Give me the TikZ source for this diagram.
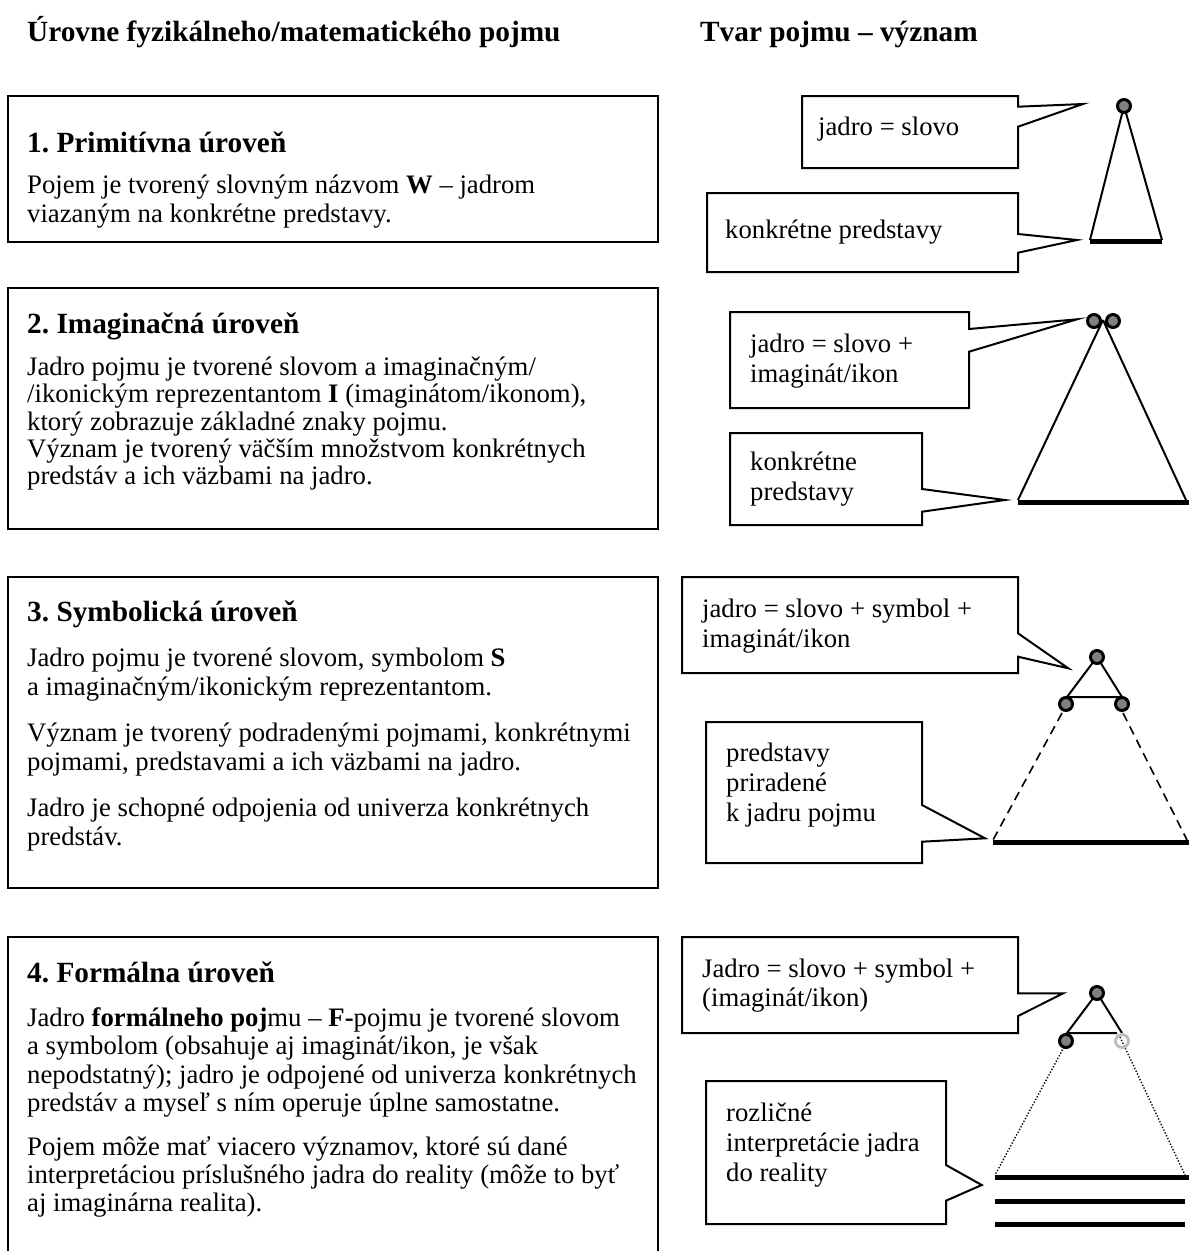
\documentclass[tikz,border=0pt]{standalone}
\usepackage{fontspec}
\setmainfont{Liberation Serif}
\definecolor{coregray}{RGB}{128,128,128}
\definecolor{ringgray}{RGB}{190,190,190}
\frenchspacing
\begin{document}
\begin{tikzpicture}[x=1pt,y=-1pt,
  body/.style={anchor=base west, inner sep=0pt, font=\fontsize{26.7}{29}\selectfont},
  head/.style={anchor=base west, inner sep=0pt, font=\fontsize{29.3}{31}\selectfont\bfseries},
  frame/.style={draw=black, line width=2pt},
  callout/.style={draw=black, line width=2pt, fill=white, line join=miter},
  side/.style={black, line width=2pt},
  baseline/.style={black, line width=5pt},
  dashside/.style={black, line width=1.6pt, dash pattern=on 9pt off 6pt},
  dotside/.style={black, line width=1.4pt, dash pattern=on 1.3pt off 1.8pt},
  core/.style={circle, draw=black, line width=3pt, fill=coregray, minimum size=13pt, inner sep=0pt},
  faint/.style={circle, draw=ringgray, line width=3pt, minimum size=13pt, inner sep=0pt}
]
\useasboundingbox (0,0) rectangle (1189,1251);
\fill[white] (0,0) rectangle (1189,1251);

% headers
\node[head] (title) at (27,41) {Úrovne fyzikálneho/matematického pojmu};
\node[head] (tvar) at (700,41) {Tvar pojmu – význam};

% ---------- left boxes ----------
\draw[frame] (8,96) rectangle (658,242);
\node[head] (h1) at (27,152) {1. Primitívna úroveň};
\node[body] (l1a) at (27,193) {Pojem je tvorený slovným názvom \textbf{W} – jadrom};
\node[body] (l1b) at (27,222) {viazaným na konkrétne predstavy.};

\draw[frame] (8,288) rectangle (658,529);
\node[head] (h2) at (27,333) {2. Imaginačná úroveň};
\node[body] (l2a) at (27,375) {Jadro pojmu je tvorené slovom a imaginačným/};
\node[body] (l2b) at (27,402.5) {/ikonickým reprezentantom \textbf{I} (imaginátom/ikonom),};
\node[body] (l2c) at (27,430) {ktorý zobrazuje základné znaky pojmu.};
\node[body] (l2d) at (27,457) {Význam je tvorený väčším množstvom konkrétnych};
\node[body] (l2e) at (27,484) {predstáv a ich väzbami na jadro.};

\draw[frame] (8,577) rectangle (658,888);
\node[head] (h3) at (27,621.5) {3. Symbolická úroveň};
\node[body] (l3a) at (27,666.5) {Jadro pojmu je tvorené slovom, symbolom \textbf{S}};
\node[body] (l3b) at (27,695.5) {a imaginačným/ikonickým reprezentantom.};
\node[body] (l3c) at (27,741) {Význam je tvorený podradenými pojmami, konkrétnymi};
\node[body] (l3d) at (27,770) {pojmami, predstavami a ich väzbami na jadro.};
\node[body] (l3e) at (27,816.5) {Jadro je schopné odpojenia od univerza konkrétnych};
\node[body] (l3f) at (27,845.5) {predstáv.};

\draw[frame] (8,1256) -- (8,937) -- (658,937) -- (658,1256);
\node[head] (h4) at (27,982) {4. Formálna úroveň};
\node[body] (l4a) at (27,1026) {Jadro \textbf{formálneho poj}mu – \textbf{F-}pojmu je tvorené slovom};
\node[body] (l4b) at (27,1054.5) {a symbolom (obsahuje aj imaginát/ikon, je však};
\node[body] (l4c) at (27,1083) {nepodstatný); jadro je odpojené od univerza konkrétnych};
\node[body] (l4d) at (27,1111) {predstáv a myseľ s ním operuje úplne samostatne.};
\node[body] (l4e) at (27,1155.5) {Pojem môže mať viacero významov, ktoré sú dané};
\node[body] (l4f) at (27,1183.5) {interpretáciou príslušného jadra do reality (môže to byť};
\node[body] (l4g) at (27,1211) {aj imaginárna realita).};

% ---------- level 1 figure ----------
\coordinate (a1) at (1124,106);
\coordinate (b1l) at (1090,240);
\coordinate (b1r) at (1162,240);
\draw[side] (a1) -- (b1l);
\draw[side] (a1) -- (b1r);
\draw[baseline] (1090,241) -- (1162,241);
\node[core] (k1) at (a1) {};
\draw[callout] (802,96) -- (1018,96) -- (1018,106.7) -- (1083,104) -- (1018,126.7) -- (1018,168) -- (802,168) -- cycle;
\node[body] (c1a) at (818,135) {jadro = slovo};
\draw[callout] (707,193) -- (1018,193) -- (1018,234) -- (1077,240) -- (1018,252.7) -- (1018,272) -- (707,272) -- cycle;
\node[body] (c1b) at (725,238) {konkrétne predstavy};

% ---------- level 2 figure ----------
\coordinate (a2) at (1103,320);
\coordinate (b2l) at (1018,500);
\coordinate (b2r) at (1186,500);
\draw[side] (a2) -- (b2l);
\draw[side] (a2) -- (b2r);
\draw[baseline] (1018,502) -- (1189,502);
\node[core] (k2a) at (1094,321) {};
\node[core] (k2b) at (1113,321) {};
\draw[callout] (730,312) -- (969,312) -- (969,329) -- (1077,319.3) -- (969,351.7) -- (969,408) -- (730,408) -- cycle;
\node[body] (c2a) at (750,352) {jadro = slovo +};
\node[body] (c2b) at (750,382) {imaginát/ikon};
\draw[callout] (730,433) -- (922,433) -- (922,489) -- (1005,500) -- (922,511.7) -- (922,525) -- (730,525) -- cycle;
\node[body] (c2c) at (750,470) {konkrétne};
\node[body] (c2d) at (750,500) {predstavy};

% ---------- level 3 figure ----------
\coordinate (a3) at (1097,657);
\coordinate (t3l) at (1067,697);
\coordinate (t3r) at (1122,697);
\coordinate (b3l) at (993,840);
\coordinate (b3r) at (1187,840);
\draw[side] (a3) -- (t3l) -- (t3r) -- cycle;
\draw[dashside] (1062,713) -- (b3l);
\draw[dashside] (1123,713) -- (b3r);
\draw[baseline] (993,842) -- (1189,842);
\node[core] (k3a) at (a3) {};
\node[core] (k3b) at (1066,704) {};
\node[core] (k3c) at (1122,704) {};
\draw[callout] (682,577) -- (1018,577) -- (1018,633.3) -- (1068.3,668.3) -- (1018,656.7) -- (1018,673) -- (682,673) -- cycle;
\node[body] (c3a) at (702,617) {jadro = slovo + symbol +};
\node[body] (c3b) at (702,647) {imaginát/ikon};
\draw[callout] (706,722) -- (922,722) -- (922,805) -- (985,838.3) -- (922,841.7) -- (922,863) -- (706,863) -- cycle;
\node[body] (c3c) at (726,761) {predstavy};
\node[body] (c3d) at (726,791) {priradené};
\node[body] (c3e) at (726,821) {k jadru pojmu};

% ---------- level 4 figure ----------
\coordinate (a4) at (1097,993);
\coordinate (t4l) at (1067,1033);
\coordinate (t4r) at (1122,1033);
\coordinate (b4l) at (995,1175);
\coordinate (b4r) at (1185,1175);
\draw[side] (a4) -- (t4l) -- (1117,1033);
\draw[side] (a4) -- (t4r);
\draw[dotside] (1064,1047) -- (b4l);
\draw[dotside] (1120,1037) -- (b4r);
\draw[baseline] (995,1177) -- (1189,1177);
\draw[baseline] (995,1201) -- (1185,1201);
\draw[baseline] (995,1224) -- (1185,1224);
\node[core] (k4a) at (a4) {};
\node[core] (k4b) at (1066,1041) {};
\node[faint] (k4c) at (1122,1041) {};
\draw[callout] (682,937) -- (1018,937) -- (1018,993.3) -- (1063.3,993.3) -- (1018,1016) -- (1018,1033) -- (682,1033) -- cycle;
\node[body] (c4a) at (702,977) {Jadro = slovo + symbol +};
\node[body] (c4b) at (702,1006) {(imaginát/ikon)};
\draw[callout] (706,1081) -- (946,1081) -- (946,1165) -- (981.7,1185) -- (946,1200.7) -- (946,1224) -- (706,1224) -- cycle;
\node[body] (c4c) at (726,1121) {rozličné};
\node[body] (c4d) at (726,1151) {interpretácie jadra};
\node[body] (c4e) at (726,1181) {do reality};
\end{tikzpicture}
\end{document}
